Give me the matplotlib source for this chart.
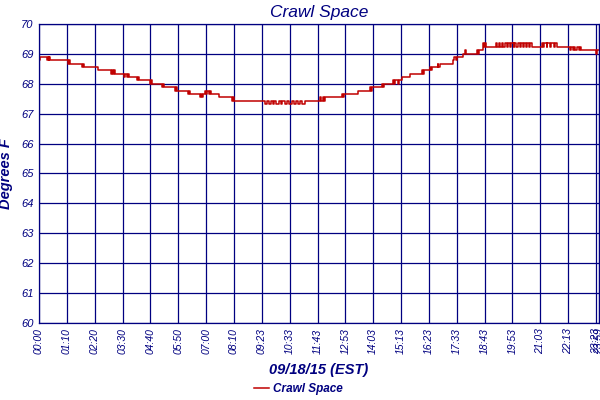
import matplotlib
matplotlib.use('Agg')
import matplotlib.pyplot as plt

navy = '#000080'
red = '#c00000'

# sample index (about 1 per minute) where the reading changes, and the reading in deg F
step_x = [0, 3, 20, 22, 24, 26, 28, 73, 75, 77, 108, 111, 113, 148, 181, 183, 186, 188, 191,
          214, 217, 220, 224, 227, 246, 249, 251, 279, 281, 283, 309, 311, 314,
          342, 344, 347, 374, 377, 379, 404, 407, 409, 412, 417, 420, 423, 427, 430, 433,
          452, 485, 487, 489,
          568, 572, 578, 583, 588, 590, 596, 603, 607, 612, 618, 624, 628, 635, 640, 646,
          651, 657, 662, 668,
          706, 709, 713, 716, 720, 761, 764, 767, 801, 831, 834, 837, 862, 865, 868,
          889, 892, 895, 902, 904, 912, 932, 962, 964, 967, 982, 985, 988, 1002, 1004, 1007,
          1040, 1044, 1047, 1050, 1065, 1070, 1072, 1100, 1103, 1106, 1115,
          1117, 1119, 1122, 1124, 1148, 1150, 1156, 1158, 1163, 1165,
          1171, 1176, 1178, 1184, 1186, 1193, 1195, 1200, 1203, 1209, 1211, 1216, 1218,
          1224, 1226, 1232, 1234, 1238,
          1264, 1268, 1270, 1276, 1278, 1285, 1287, 1294, 1296, 1302,
          1334, 1338, 1341, 1345, 1348, 1352, 1356, 1360, 1363, 1400, 1402, 1407]
step_f = [68.7875, 68.9, 68.7875, 68.9, 68.7875, 68.9, 68.7875, 68.675, 68.7875, 68.675,
          68.5625, 68.675, 68.5625, 68.45, 68.3375, 68.45, 68.3375, 68.45, 68.3375,
          68.225, 68.3375, 68.225, 68.3375, 68.225, 68.1125, 68.225, 68.1125, 68.0, 68.1125, 68.0,
          67.8875, 68.0, 67.8875,
          67.775, 67.8875, 67.775, 67.6625, 67.775, 67.6625, 67.55, 67.6625, 67.55, 67.6625,
          67.775, 67.6625, 67.775, 67.6625, 67.775, 67.6625,
          67.55, 67.4375, 67.55, 67.4375,
          67.325, 67.4375, 67.325, 67.4375, 67.325, 67.4375, 67.325, 67.4375, 67.325, 67.4375,
          67.325, 67.4375, 67.325, 67.4375, 67.325, 67.4375, 67.325, 67.4375, 67.325, 67.4375,
          67.55, 67.4375, 67.55, 67.4375, 67.55, 67.6625, 67.55, 67.6625, 67.775, 67.8875,
          67.775, 67.8875, 68.0, 67.8875, 68.0,
          68.1125, 68.0, 68.1125, 68.0, 68.1125, 68.225, 68.3375, 68.45, 68.3375, 68.45,
          68.5625, 68.45, 68.5625, 68.675, 68.5625, 68.675,
          68.7875, 68.9, 68.7875, 68.9, 69.0125, 69.125, 69.0125, 69.125, 69.0125, 69.125, 69.2375,
          69.35, 69.2375, 69.35, 69.2375, 69.35, 69.2375, 69.35, 69.2375, 69.35, 69.2375,
          69.35, 69.2375, 69.35, 69.2375, 69.35, 69.2375, 69.35, 69.2375, 69.35, 69.2375,
          69.35, 69.2375, 69.35, 69.2375, 69.35, 69.2375, 69.35, 69.2375,
          69.35, 69.2375, 69.35, 69.2375, 69.35, 69.2375, 69.35, 69.2375, 69.35, 69.2375,
          69.125, 69.2375, 69.125, 69.2375, 69.125, 69.2375, 69.125, 69.2375, 69.125,
          69.0125, 69.125, 69.125]

tick_pos = [0, 70, 140, 210, 280, 350, 420, 490, 560, 630, 700, 770, 840, 910, 980,
            1050, 1120, 1190, 1260, 1330, 1400, 1407]
tick_labels = ['00:00', '01:10', '02:20', '03:30', '04:40', '05:50', '07:00', '08:10',
               '09:23', '10:33', '11:43', '12:53', '14:03', '15:13', '16:23', '17:33',
               '18:43', '19:53', '21:03', '22:13', '23:23', '23:59']
y_ticks = [60, 61, 62, 63, 64, 65, 66, 67, 68, 69, 70]

plt.rcParams['font.family'] = 'Liberation Sans'

fig = plt.figure(figsize=(6, 4), dpi=100)
ax = fig.add_axes([0.065, 0.1925, 0.933, 0.7475])

ax.step(step_x, step_f, where='post', color=red, linewidth=1.1, label='Crawl Space')

ax.set_xlim(0, 1407)
ax.set_ylim(60, 70)
ax.set_xticks(tick_pos)
ax.set_xticklabels(tick_labels, rotation=90, fontsize=7.5, style='italic', color=navy)
ax.set_yticks(y_ticks)
ax.set_yticklabels([str(v) for v in y_ticks], fontsize=8, style='italic', color=navy)
ax.tick_params(length=0, pad=4)
ax.grid(True, color=navy, linewidth=0.9)
ax.set_axisbelow(True)
for s in ax.spines.values():
    s.set_color(navy)
    s.set_linewidth(0.9)

ax.set_title('Crawl Space', fontsize=12.5, style='italic', color=navy, pad=5)
ax.set_xlabel('09/18/15 (EST)', fontsize=10.5, style='italic', weight='bold', color=navy, labelpad=6)
ax.set_ylabel('Degrees F', fontsize=10.5, style='italic', weight='bold', color=navy, labelpad=6)

leg = fig.legend(loc='center', bbox_to_anchor=(0.497, 0.028), frameon=False,
                 handlelength=1.3, handletextpad=0.3, prop={'size': 8.5, 'style': 'italic', 'weight': 'bold'})
for t in leg.get_texts():
    t.set_color(navy)

fig.savefig('out.png', dpi=100)
